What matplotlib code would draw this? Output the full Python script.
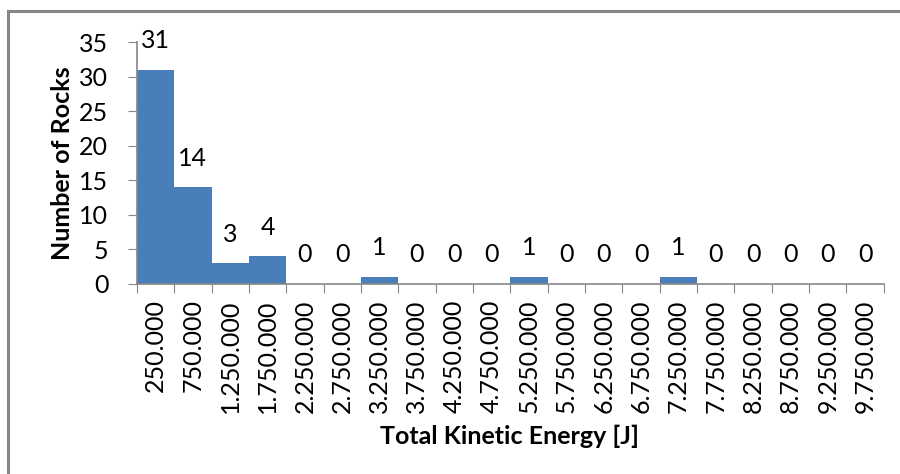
import matplotlib.pyplot as plt
from matplotlib.lines import Line2D

# energy bins (bin centres) and rock counts
bin_labels = ["250.000", "750.000", "1.250.000", "1.750.000", "2.250.000",
              "2.750.000", "3.250.000", "3.750.000", "4.250.000", "4.750.000",
              "5.250.000", "5.750.000", "6.250.000", "6.750.000", "7.250.000",
              "7.750.000", "8.250.000", "8.750.000", "9.250.000", "9.750.000"]
counts = [31, 14, 3, 4, 0, 0, 1, 0, 0, 0, 1, 0, 0, 0, 1, 0, 0, 0, 0, 0]

plt.rcParams['font.family'] = ['Lato', 'DejaVu Sans']
fs = 18

fig = plt.figure(figsize=(9, 4.74), dpi=100)
ax = fig.add_axes([0.152, 0.401, 0.830, 0.510])

pos = list(range(len(counts)))
ax.bar(pos, counts, width=1.0, color="#4A7EBB", edgecolor="none")

for x, c in zip(pos, counts):
    ax.annotate(str(c), (x, c), xytext=(0, 21), textcoords="offset points",
                ha="center", va="center", fontsize=fs)

ax.set_xlim(-0.5, len(counts) - 0.5)
ax.set_ylim(0, 35)
ax.set_yticks(range(0, 36, 5))

# tick marks at bin edges, labels at bin centres
ax.set_xticks([p - 0.5 for p in range(len(counts) + 1)])
ax.set_xticklabels([])
ax.set_xticks(pos, minor=True)
ax.set_xticklabels(bin_labels, minor=True, rotation=90, fontsize=fs)
ax.tick_params(axis="x", which="minor", length=0, pad=11)
ax.tick_params(axis="x", which="major", length=6.5, color="#868686", direction="out")
ax.tick_params(axis="y", length=6.5, color="#868686", pad=14, labelsize=fs)

for s in ["top", "right"]:
    ax.spines[s].set_visible(False)
for s in ["left", "bottom"]:
    ax.spines[s].set_color("#868686")
    ax.spines[s].set_linewidth(1.2)

ax.set_xlabel("Total Kinetic Energy [J]", fontsize=fs, fontweight="bold")
ax.set_ylabel("Number of Rocks", fontsize=fs, fontweight="bold")
ax.yaxis.set_label_coords(-0.100, 0.5)
ax.xaxis.set_label_coords(0.499, -0.632)
ax.xaxis.label.set_va("center")
ax.yaxis.label.set_va("center")

# chart frame (top and left edges)
fig.add_artist(Line2D([8 / 900, 1.0], [1 - 11 / 474] * 2, transform=fig.transFigure,
                      color="#868686", linewidth=2.2))
fig.add_artist(Line2D([8 / 900] * 2, [0.0, 1 - 11 / 474], transform=fig.transFigure,
                      color="#868686", linewidth=2.2))

fig.savefig("out.png", dpi=100)
